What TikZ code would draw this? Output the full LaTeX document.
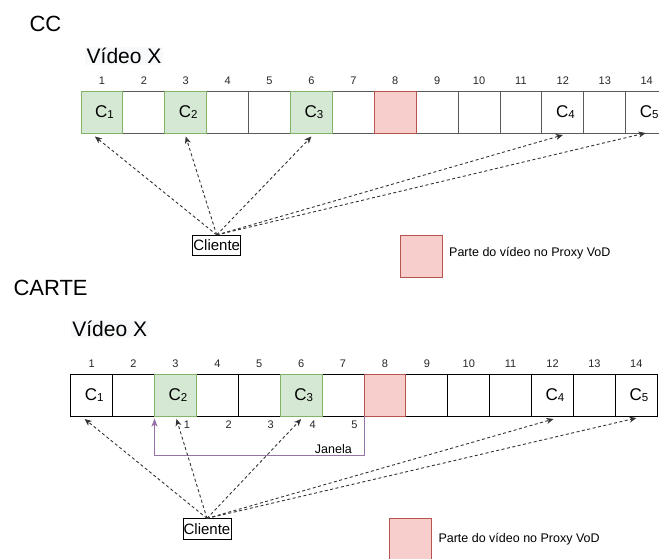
\documentclass[tikz,border=0pt]{standalone}
\usepackage{fontspec}
\setmainfont{Liberation Sans}
\usetikzlibrary{arrows.meta,calc}

\definecolor{okfill}{HTML}{D5E8D4}
\definecolor{okline}{HTML}{82B366}
\definecolor{proxyfill}{HTML}{F8CECC}
\definecolor{proxyline}{HTML}{B85450}
\definecolor{winline}{HTML}{9673A6}
\definecolor{linkgray}{HTML}{333333}
\definecolor{titlebg}{HTML}{F8F9FA}

% chunk label: C with a smaller index sitting near the baseline
\newcommand{\chunklabel}[1]{{\fontsize{17}{17}\selectfont C\raisebox{-0.8pt}{\fontsize{11.5}{11.5}\selectfont #1}}}

\begin{document}
\begin{tikzpicture}[x=1pt,y=-1pt,
  cellbox/.style={draw=#1, fill=white, line width=0.9pt, minimum width=41.9pt,
    minimum height=42pt, inner sep=0pt, outer sep=0pt},
  cellbox/.default=black,
  okcell/.style={cellbox=okline, fill=okfill},
  proxycell/.style={cellbox=proxyline, fill=proxyfill},
  heading/.style={anchor=base west, inner sep=0pt, font=\fontsize{22}{22}\selectfont},
  videotitle/.style={anchor=base west, inner sep=1.5pt, fill=titlebg, font=\fontsize{21}{21}\selectfont},
  num/.style={anchor=base, inner sep=0pt, font=\fontsize{11}{11}\selectfont, text=black!85},
  chunk/.style={inner sep=0pt},
  client/.style={draw=black, line width=0.7pt, inner sep=0.6pt, minimum height=20.5pt,
    font=\fontsize{15}{15}\selectfont},
  link/.style={draw=linkgray, line width=0.9pt, dash pattern=on 3pt off 2.5pt,
    -{Stealth[length=7pt,width=6pt,inset=2pt]}},
  window/.style={draw=winline, line width=0.9pt, -{Stealth[length=8pt,width=6pt,inset=2pt]}},
  keybox/.style={draw=proxyline, fill=proxyfill, line width=0.9pt, minimum width=42.5pt,
    minimum height=42pt, inner sep=0pt},
  keytext/.style={anchor=west, inner sep=0pt, font=\fontsize{12.5}{12.5}\selectfont}
]
\useasboundingbox (0,0) rectangle (659,558);

% ---------------- CC ----------------
\node[heading] (ccHead) at (29.3,31.5) {CC};
\node[videotitle] (ccVideo) at (85,63.5) {Vídeo X};

\foreach \i in {2,4,5,7,9,10,11,12,13,14}
  \node[cellbox=black!65] (cc\i) at ({81+(\i-0.5)*41.9},112) {};
\foreach \i in {1,3,6}
  \node[okcell] (cc\i) at ({81+(\i-0.5)*41.9},112) {};
\node[proxycell] (cc8) at ({81+7.5*41.9},112) {};

\foreach \i in {1,...,14}
  \node[num] (ccNum\i) at ($(cc\i.north)+(0,-7)$) {\i};

\foreach \c/\k in {1/1,3/2,6/3,12/4,14/5}
  \node[chunk] (ccC\k) at ($(cc\c.center)+(2.5,0)$) {\chunklabel{\k}};

\node[client] (cliA) at (216.7,245.5) {Cliente};

\draw[link] (cliA.north) -- ($(cc1.south)+(-7,3.5)$);
\draw[link] (cliA.north) -- ($(cc3.south)+(0,3.5)$);
\draw[link] (cliA.north) -- ($(cc6.south)+(0,3.5)$);
\draw[link] (cliA.north) -- ($(cc12.south)+(0,2)$);
\draw[link] (cliA.north) -- ($(cc14.south)+(-1,0)$);

\node[keybox] (keyA) at (421.3,256) {};
\node[keytext] (keyAtxt) at (449,253) {Parte do vídeo no Proxy VoD};

% ---------------- CARTE ----------------
\node[heading] (caHead) at (13.3,295.5) {CARTE};
\node[videotitle] (caVideo) at (70.7,336.7) {Vídeo X};

\foreach \i in {1,2,4,5,7,9,10,11,12,13,14}
  \node[cellbox] (ca\i) at ({70.7+(\i-0.5)*41.9},395) {};
\foreach \i in {3,6}
  \node[okcell] (ca\i) at ({70.7+(\i-0.5)*41.9},395) {};
\node[proxycell] (ca8) at ({70.7+7.5*41.9},395) {};

\foreach \i in {1,...,14}
  \node[num] (caNum\i) at ($(ca\i.north)+(0,-7)$) {\i};

\foreach \c/\k in {1/1,3/2,6/3,12/4,14/5}
  \node[chunk] (caC\k) at ($(ca\c.center)+(2.5,0)$) {\chunklabel{\k}};

% sliding window below chunks 3 to 7
\foreach \c/\k in {3/1,4/2,5/3,6/4,7/5}
  \node[num] (winNum\k) at ($(ca\c.south east)+(-9.5,12.5)$) {\k};
\draw[window] (ca7.south east) -- ++(0,39.5) -| ($(ca3.south west)+(0,2.5)$);
\node[anchor=base east, inner sep=0pt, font=\fontsize{12.5}{12.5}\selectfont] (winLabel)
  at ($(ca7.south east)+(-12,37.5)$) {Janela};

\node[client] (cliB) at (207,529) {Cliente};

\draw[link] (cliB.north) -- ($(ca1.south)+(-7,3)$);
\draw[link] (cliB.north) -- ($(ca3.south)+(1,3)$);
\draw[link] (cliB.north) -- ($(ca6.south)+(0,3)$);
\draw[link] (cliB.north) -- ($(ca12.south)+(1,3)$);
\draw[link] (cliB.north) -- ($(ca14.south)+(0,2)$);

\node[keybox] (keyB) at (410.5,539) {};
\node[keytext] (keyBtxt) at (438.3,539) {Parte do vídeo no Proxy VoD};
\end{tikzpicture}
\end{document}
